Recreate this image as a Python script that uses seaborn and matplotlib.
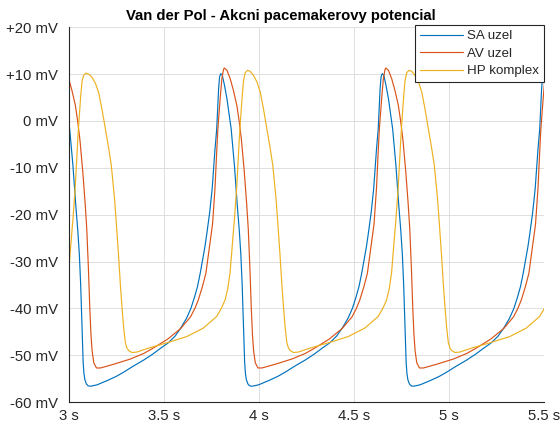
import matplotlib
matplotlib.use("Agg")
import matplotlib.pyplot as plt
import pandas as pd
import seaborn as sns

# ---- data (time in s, potential in mV) ----
sa_t = [3.000, 3.005, 3.022, 3.037, 3.048, 3.056, 3.063, 3.068, 3.072, 3.076, 3.080, 3.085,
        3.093, 3.102, 3.114, 3.149, 3.202, 3.250, 3.289, 3.340, 3.395, 3.440, 3.490, 3.522,
        3.560, 3.591, 3.620, 3.643, 3.662, 3.678, 3.693, 3.705, 3.717, 3.727, 3.742, 3.755,
        3.770, 3.779, 3.784, 3.789, 3.794,
        3.800, 3.808, 3.820, 3.833, 3.845, 3.855, 3.872, 3.887, 3.898, 3.906, 3.913, 3.918,
        3.922, 3.926, 3.930, 3.935, 3.943, 3.952, 3.964, 3.999, 4.052, 4.100, 4.139, 4.190,
        4.245, 4.290, 4.340, 4.372, 4.410, 4.441, 4.470, 4.493, 4.512, 4.528, 4.543, 4.555,
        4.567, 4.577, 4.592, 4.605, 4.620, 4.629, 4.634, 4.639, 4.644,
        4.650, 4.658, 4.670, 4.683, 4.695, 4.705, 4.722, 4.737, 4.748, 4.756, 4.763, 4.768,
        4.772, 4.776, 4.780, 4.785, 4.793, 4.802, 4.814, 4.849, 4.902, 4.950, 4.989, 5.040,
        5.095, 5.140, 5.190, 5.222, 5.260, 5.291, 5.320, 5.343, 5.362, 5.378, 5.393, 5.405,
        5.417, 5.427, 5.442, 5.455, 5.470, 5.479, 5.484, 5.489, 5.494, 5.500]
sa_v = [-0.2, -1.7, -9.4, -17.9, -23.5, -28.5, -35.0, -41.5, -47.0, -51.5, -53.8, -55.2,
        -56.1, -56.5, -56.6, -56.3, -55.4, -54.5, -53.6, -52.3, -51.0, -49.8, -48.3, -47.4,
        -45.9, -44.1, -42.1, -40.0, -37.6, -35.3, -32.3, -29.6, -26.8, -24.0, -19.5, -14.5,
        -6.0, -1.7, 2.6, 6.9, 9.4,
        10.1, 9.8, 7.6, 4.7, 1.2, -1.7, -9.4, -17.9, -23.5, -28.5, -35.0, -41.5,
        -47.0, -51.5, -53.8, -55.2, -56.1, -56.5, -56.6, -56.3, -55.4, -54.5, -53.6, -52.3,
        -51.0, -49.8, -48.3, -47.4, -45.9, -44.1, -42.1, -40.0, -37.6, -35.3, -32.3, -29.6,
        -26.8, -24.0, -19.5, -14.5, -6.0, -1.7, 2.6, 6.9, 9.4,
        10.1, 9.8, 7.6, 4.7, 1.2, -1.7, -9.4, -17.9, -23.5, -28.5, -35.0, -41.5,
        -47.0, -51.5, -53.8, -55.2, -56.1, -56.5, -56.6, -56.3, -55.4, -54.5, -53.6, -52.3,
        -51.0, -49.8, -48.3, -47.4, -45.9, -44.1, -42.1, -40.0, -37.6, -35.3, -32.3, -29.6,
        -26.8, -24.0, -19.5, -14.5, -6.0, -1.7, 2.6, 6.9, 9.4, 10.1]

av_t = [3.000, 3.017, 3.035, 3.047, 3.059, 3.074, 3.087, 3.095, 3.104, 3.111, 3.117, 3.123,
        3.132, 3.146, 3.167, 3.237, 3.324, 3.395, 3.439, 3.519, 3.589, 3.641, 3.664, 3.682,
        3.704, 3.722, 3.741, 3.757, 3.770, 3.779, 3.785, 3.797, 3.806, 3.815,
        3.819, 3.833, 3.850, 3.867, 3.885, 3.897, 3.909, 3.924, 3.937, 3.945, 3.954, 3.961,
        3.967, 3.973, 3.982, 3.996, 4.017, 4.087, 4.174, 4.245, 4.289, 4.369, 4.439, 4.491,
        4.514, 4.532, 4.554, 4.572, 4.591, 4.607, 4.620, 4.629, 4.635, 4.647, 4.656, 4.665,
        4.669, 4.683, 4.700, 4.717, 4.735, 4.747, 4.759, 4.774, 4.787, 4.795, 4.804, 4.811,
        4.817, 4.823, 4.832, 4.846, 4.867, 4.937, 5.024, 5.095, 5.139, 5.219, 5.289, 5.341,
        5.364, 5.382, 5.404, 5.422, 5.441, 5.457, 5.470, 5.479, 5.485, 5.497, 5.506]
av_v = [9.0, 6.5, 3.3, 0.0, -4.0, -10.8, -17.9, -23.0, -31.8, -40.0, -45.5, -49.0,
        -51.6, -52.7, -52.7, -51.9, -50.8, -49.6, -48.6, -46.6, -44.3, -41.8, -40.0, -38.2,
        -35.3, -32.5, -26.8, -22.0, -14.3, -6.5, -1.7, 4.7, 9.0, 11.0,
        11.3, 10.8, 9.0, 6.5, 3.3, 0.0, -4.0, -10.8, -17.9, -23.0, -31.8, -40.0,
        -45.5, -49.0, -51.6, -52.7, -52.7, -51.9, -50.8, -49.6, -48.6, -46.6, -44.3, -41.8,
        -40.0, -38.2, -35.3, -32.5, -26.8, -22.0, -14.3, -6.5, -1.7, 4.7, 9.0, 11.0,
        11.3, 10.8, 9.0, 6.5, 3.3, 0.0, -4.0, -10.8, -17.9, -23.0, -31.8, -40.0,
        -45.5, -49.0, -51.6, -52.7, -52.7, -51.9, -50.8, -49.6, -48.6, -46.6, -44.3, -41.8,
        -40.0, -38.2, -35.3, -32.5, -26.8, -22.0, -14.3, -6.5, -1.7, 4.7, 9.0]

hp_t = [3.000, 3.008, 3.016, 3.022, 3.034, 3.048, 3.053, 3.062, 3.070, 3.079,
        3.091, 3.105, 3.123, 3.141, 3.158, 3.175, 3.193, 3.209, 3.224, 3.241, 3.250, 3.262,
        3.272, 3.280, 3.289, 3.298, 3.307, 3.316, 3.333, 3.359, 3.395, 3.426, 3.519, 3.621,
        3.708, 3.779, 3.803, 3.823, 3.837, 3.849, 3.858, 3.866, 3.872, 3.884, 3.898, 3.903,
        3.912, 3.920, 3.929,
        3.941, 3.955, 3.973, 3.991, 4.008, 4.025, 4.043, 4.059, 4.074, 4.091, 4.100, 4.112,
        4.122, 4.130, 4.139, 4.148, 4.157, 4.166, 4.183, 4.209, 4.245, 4.276, 4.369, 4.471,
        4.558, 4.629, 4.653, 4.673, 4.687, 4.699, 4.708, 4.716, 4.722, 4.734, 4.748, 4.753,
        4.762, 4.770, 4.779,
        4.791, 4.805, 4.823, 4.841, 4.858, 4.875, 4.893, 4.909, 4.924, 4.941, 4.950, 4.962,
        4.972, 4.980, 4.989, 4.998, 5.007, 5.016, 5.033, 5.059, 5.095, 5.126, 5.219, 5.321,
        5.408, 5.479, 5.503]
hp_v = [-32.3, -28.0, -24.0, -21.1, -14.3, -3.7, -0.5, 4.7, 8.4, 9.8,
        10.2, 10.0, 9.3, 8.0, 6.0, 2.5, -1.7, -5.5, -9.4, -16.5, -21.5, -28.5,
        -35.0, -39.5, -44.0, -47.3, -48.5, -49.0, -49.4, -49.3, -48.8, -48.4, -47.3, -46.0,
        -44.2, -41.7, -40.0, -38.2, -35.8, -32.5, -28.0, -24.0, -21.1, -14.3, -3.7, -0.5,
        4.7, 8.6, 10.3,
        10.8, 10.6, 9.7, 8.3, 6.2, 2.6, -1.7, -5.5, -9.4, -16.5, -21.5, -28.5,
        -35.0, -39.5, -44.0, -47.3, -48.5, -49.0, -49.4, -49.3, -48.8, -48.4, -47.3, -46.0,
        -44.2, -41.7, -40.0, -38.2, -35.8, -32.5, -28.0, -24.0, -21.1, -14.3, -3.7, -0.5,
        4.7, 8.6, 10.3,
        10.8, 10.6, 9.7, 8.3, 6.2, 2.6, -1.7, -5.5, -9.4, -16.5, -21.5, -28.5,
        -35.0, -39.5, -44.0, -47.3, -48.5, -49.0, -49.4, -49.3, -48.8, -48.4, -47.3, -46.0,
        -44.2, -41.7, -40.0]

series_names = ["SA uzel", "AV uzel", "HP komplex"]
series_colors = ["#0072BD", "#D95319", "#EDB120"]

x_ticks = [3, 3.5, 4, 4.5, 5, 5.5]
x_labels = ["3 s", "3.5 s", "4 s", "4.5 s", "5 s", "5.5 s"]
y_ticks = [-60, -50, -40, -30, -20, -10, 0, 10, 20]
y_labels = ["-60 mV", "-50 mV", "-40 mV", "-30 mV", "-20 mV", "-10 mV", "0 mV", "+10 mV", "+20 mV"]

title = "Van der Pol - Akcni pacemakerovy potencial"

# ---- build long table ----
frames = []
for name, tt, vv in zip(series_names, [sa_t, av_t, hp_t], [sa_v, av_v, hp_v]):
    frames.append(pd.DataFrame({"t": tt, "v": vv, "serie": name}))
df = pd.concat(frames, ignore_index=True)

sns.set_theme(style="white")
plt.rcParams["font.family"] = ["Liberation Sans", "DejaVu Sans"]

fig = plt.figure(figsize=(5.6, 4.28), dpi=100)
ax = fig.add_axes([0.1227, 0.0603, 0.8482, 0.8761])

sns.lineplot(data=df, x="t", y="v", hue="serie", hue_order=series_names,
             palette=dict(zip(series_names, series_colors)), estimator=None,
             errorbar=None, sort=False, linewidth=0.85, ax=ax)

ax.set_xlim(3, 5.5)
ax.set_ylim(-60, 20)
ax.set_xticks(x_ticks)
ax.set_xticklabels(x_labels)
ax.set_yticks(y_ticks)
ax.set_yticklabels(y_labels)
ax.set_xlabel("")
ax.set_ylabel("")

ax.grid(True, color="#dedede", linewidth=0.7)
ax.set_axisbelow(True)
for s in ["top", "right"]:
    ax.spines[s].set_visible(False)
for s in ["left", "bottom"]:
    ax.spines[s].set_color("#262626")
    ax.spines[s].set_linewidth(0.8)
ax.tick_params(axis="both", direction="in", length=3.5, width=0.6, color="#262626",
               labelsize=10.7, labelcolor="#262626")
ax.tick_params(axis="y", pad=8)
ax.tick_params(axis="x", pad=5)

ax.set_title(title, fontsize=10.7, fontweight="bold", color="black", pad=5, x=0.447)

handles, labels = ax.get_legend_handles_labels()
leg = ax.legend(handles, labels, loc="upper right", bbox_to_anchor=(1.0, 1.006),
                borderaxespad=0, fancybox=False, framealpha=1, edgecolor="#262626",
                fontsize=9.6, handlelength=3.25, handletextpad=0.25, labelspacing=0.38,
                borderpad=0.38)
leg.get_frame().set_linewidth(0.8)

fig.savefig("out.png", dpi=100)
